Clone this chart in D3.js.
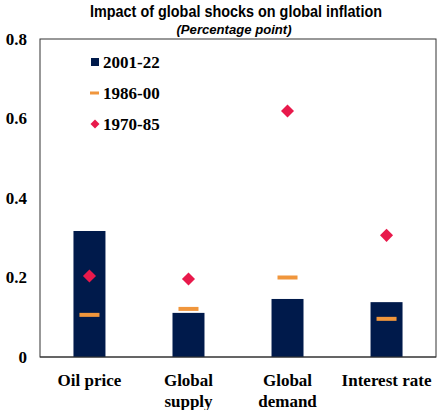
<!DOCTYPE html>
<html><head><meta charset="utf-8">
<script src="https://cdn.jsdelivr.net/npm/d3@7"></script>
<style>body{margin:0;background:#fff}</style>
</head><body>
<script>
const categories = [["Oil price"], ["Global", "supply"], ["Global", "demand"], ["Interest rate"]];
const series2001 = [0.317, 0.111, 0.146, 0.138];
const series1986 = [0.106, 0.121, 0.200, 0.096];
const series1970 = [0.204, 0.196, 0.619, 0.306];
const yTicks = [0, 0.2, 0.4, 0.6, 0.8];
const yTickLabels = ["0", "0.2", "0.4", "0.6", "0.8"];
const legendLabels = ["2001-22", "1986-00", "1970-85"];

const W = 442, H = 410;
const m = {left: 40, right: 6, top: 39, bottom: 53};
const svg = d3.select("body").append("svg").attr("width", W).attr("height", H);
const x = d3.scaleBand().domain(d3.range(categories.length)).range([m.left, W - m.right]).paddingInner(0.677).paddingOuter(0.338);
const y = d3.scaleLinear().domain([0, 0.8]).range([H - m.bottom, m.top]);
const cx = i => x(i) + x.bandwidth() / 2;

svg.append("text").attr("x", 236).attr("y", 17).attr("text-anchor", "middle")
  .attr("font-family", "Liberation Sans, Arial, sans-serif")
  .attr("textLength", 292).attr("lengthAdjust", "spacingAndGlyphs")
  .attr("font-weight", "bold").attr("font-size", 17).text("Impact of global shocks on global inflation");
svg.append("text").attr("x", 234).attr("y", 34).attr("text-anchor", "middle")
  .attr("font-family", "Liberation Sans, Arial, sans-serif")
  .attr("textLength", 115).attr("lengthAdjust", "spacingAndGlyphs")
  .attr("font-weight", "bold").attr("font-style", "italic").attr("font-size", 13).text("(Percentage point)");

// frame
svg.append("rect").attr("x", m.left).attr("y", m.top).attr("width", W - m.right - m.left).attr("height", H - m.bottom - m.top)
  .attr("fill", "none").attr("stroke", "#333").attr("stroke-width", 1);

// y tick labels
const yAxis = d3.axisLeft(y).tickValues(yTicks).tickFormat((d, i) => yTickLabels[i]).tickSize(0).tickPadding(13);
const ya = svg.append("g").attr("transform", `translate(${m.left},0)`).call(yAxis);
ya.select(".domain").remove();
ya.selectAll("text").attr("font-family", "Liberation Serif, Times New Roman, serif").attr("font-weight", "bold").attr("font-size", 17).attr("fill", "#000");

// bars
svg.selectAll(".bar").data(series2001).join("rect").attr("class", "bar")
  .attr("x", (d, i) => x(i)).attr("width", x.bandwidth())
  .attr("y", d => y(d)).attr("height", d => y(0) - y(d)).attr("fill", "#001A4B");

// redraw bottom line over bars
svg.append("line").attr("x1", m.left).attr("x2", W - m.right).attr("y1", y(0)).attr("y2", y(0)).attr("stroke", "#333");

// dashes
svg.selectAll(".dash").data(series1986).join("rect").attr("class", "dash")
  .attr("x", (d, i) => cx(i) - 10).attr("width", 20).attr("y", d => y(d) - 2).attr("height", 4).attr("fill", "#F0963C");

// diamonds
const dia = d3.symbol().type(d3.symbolSquare).size(85);
svg.selectAll(".dia").data(series1970).join("path").attr("class", "dia")
  .attr("d", dia).attr("transform", (d, i) => `translate(${cx(i)},${y(d)}) rotate(45)`).attr("fill", "#E8194B");

// x labels
const xl = svg.append("g");
categories.forEach((lines, i) => {
  const t = xl.append("text").attr("x", cx(i)).attr("y", 386).attr("text-anchor", "middle")
    .attr("font-family", "Liberation Serif, Times New Roman, serif").attr("font-weight", "bold").attr("font-size", 17).attr("fill", "#000");
  lines.forEach((l, j) => t.append("tspan").attr("x", cx(i)).attr("dy", j === 0 ? 0 : 21).text(l));
});

// legend
const lg = svg.append("g");
const ly = [62, 93, 124];
lg.append("rect").attr("x", 91).attr("y", ly[0] - 4).attr("width", 8).attr("height", 8).attr("fill", "#001A4B");
lg.append("rect").attr("x", 90).attr("y", ly[1] - 1.5).attr("width", 9).attr("height", 3).attr("fill", "#F0963C");
lg.append("path").attr("d", d3.symbol().type(d3.symbolSquare).size(40)).attr("transform", `translate(95,${ly[2]}) rotate(45)`).attr("fill", "#E8194B");
legendLabels.forEach((l, i) => {
  lg.append("text").attr("x", 103).attr("y", ly[i] + 6).attr("font-family", "Liberation Serif, Times New Roman, serif")
    .attr("font-weight", "bold").attr("font-size", 17).attr("fill", "#000").text(l);
});
</script>
</body></html>
